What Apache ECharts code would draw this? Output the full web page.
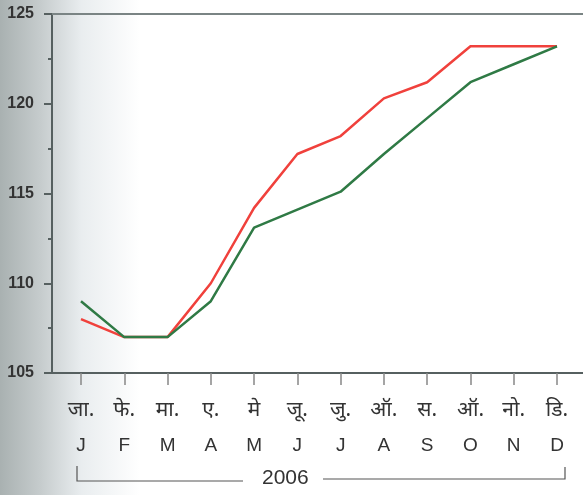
<!DOCTYPE html>
<html>
<head>
<meta charset="utf-8">
<script src="https://cdn.jsdelivr.net/npm/echarts@6/dist/echarts.min.js"></script>
<style>
  html, body { margin: 0; padding: 0; background: #fff; }
  #chart { width: 583px; height: 495px; }
</style>
</head>
<body>
<div id="chart"></div>
<script>
const hindiMonths = ['जा.', 'फे.', 'मा.', 'ए.', 'मे', 'जू.', 'जु.', 'ऑ.', 'स.', 'ऑ.', 'नो.', 'डि.'];
const months = ['J', 'F', 'M', 'A', 'M', 'J', 'J', 'A', 'S', 'O', 'N', 'D'];
const redValues = [108, 107, 107, 110, 114.2, 117.2, 118.2, 120.3, 121.2, 123.2, 123.2, 123.2];
const greenValues = [109, 107, 107, 109, 113.1, 114.1, 115.1, 117.2, 119.2, 121.2, 122.2, 123.2];
const yearLabel = '2006';

const chart = echarts.init(document.getElementById('chart'));
const axisColor = '#566060';
const textColor = '#333';

const option = {
  animation: false,
  backgroundColor: {
    type: 'linear', x: 0, y: 0, x2: 1, y2: 0,
    colorStops: [
      { offset: 0, color: '#a9b1b1' },
      { offset: 0.07, color: '#c6cccd' },
      { offset: 0.14, color: '#e9edef' },
      { offset: 0.24, color: '#ffffff' },
      { offset: 1, color: '#ffffff' }
    ]
  },
  grid: [
    // data grid: first and last month sit on the edges
    { left: 81, right: 26, top: 14, bottom: 122 },
    // frame grid: carries y axis, bottom and top lines
    { left: 52, right: 0, top: 14, bottom: 122 }
  ],
  xAxis: [
    {
      type: 'category',
      gridIndex: 0,
      data: months,
      boundaryGap: false,
      axisLine: { show: false },
      axisTick: { show: true, alignWithLabel: true, length: 12, lineStyle: { color: '#888', width: 1.5 } },
      axisLabel: {
        margin: 20,
        interval: 0,
        formatter: (v, i) => '{h|' + hindiMonths[i] + '}\n{e|' + v + '}',
        rich: {
          h: { fontSize: 21, lineHeight: 34, color: textColor, fontFamily: 'Noto Sans, DejaVu Sans, sans-serif' },
          e: { fontSize: 19, lineHeight: 38, color: textColor, fontFamily: 'Liberation Sans, Arial, sans-serif' }
        }
      },
      splitLine: { show: false }
    },
    {
      type: 'value',
      gridIndex: 1,
      position: 'bottom',
      axisLine: { show: true, onZero: false, lineStyle: { color: axisColor, width: 2 } },
      axisTick: { show: false },
      axisLabel: { show: false },
      splitLine: { show: false }
    },
    {
      type: 'value',
      gridIndex: 1,
      position: 'top',
      axisLine: { show: true, onZero: false, lineStyle: { color: '#7a8484', width: 2 } },
      axisTick: { show: false },
      axisLabel: { show: false },
      splitLine: { show: false }
    }
  ],
  yAxis: [
    {
      type: 'value',
      gridIndex: 0,
      min: 105,
      max: 125,
      show: false
    },
    {
      type: 'value',
      gridIndex: 1,
      min: 105,
      max: 125,
      interval: 5,
      axisLine: { show: true, lineStyle: { color: axisColor, width: 2 } },
      axisTick: { show: true, length: 8, lineStyle: { color: axisColor, width: 2 } },
      minorTick: { show: true, splitNumber: 2, length: 4, lineStyle: { color: axisColor, width: 2 } },
      axisLabel: {
        margin: 18,
        color: textColor,
        fontSize: 16,
        fontWeight: 'bold',
        fontFamily: 'Liberation Sans, Arial, sans-serif'
      },
      splitLine: { show: false }
    }
  ],
  series: [
    {
      type: 'line',
      xAxisIndex: 0,
      yAxisIndex: 0,
      data: redValues,
      symbol: 'none',
      lineStyle: { color: '#f0413c', width: 2.5 },
      z: 3
    },
    {
      type: 'line',
      xAxisIndex: 0,
      yAxisIndex: 0,
      data: greenValues,
      symbol: 'none',
      lineStyle: { color: '#2f7a45', width: 2.5 },
      z: 4
    }
  ],
  graphic: [
    {
      type: 'polyline',
      shape: { points: [[77, 466], [77, 481], [243, 481]] },
      style: { stroke: '#555', lineWidth: 1.2, fill: null }
    },
    {
      type: 'polyline',
      shape: { points: [[323, 479], [565, 479], [565, 467]] },
      style: { stroke: '#555', lineWidth: 1.2, fill: null }
    },
    {
      type: 'text',
      left: 262,
      top: 468,
      style: {
        text: yearLabel,
        fontSize: 21,
        fill: textColor,
        fontFamily: 'Liberation Sans, Arial, sans-serif'
      }
    }
  ]
};

chart.setOption(option);
</script>
</body>
</html>
